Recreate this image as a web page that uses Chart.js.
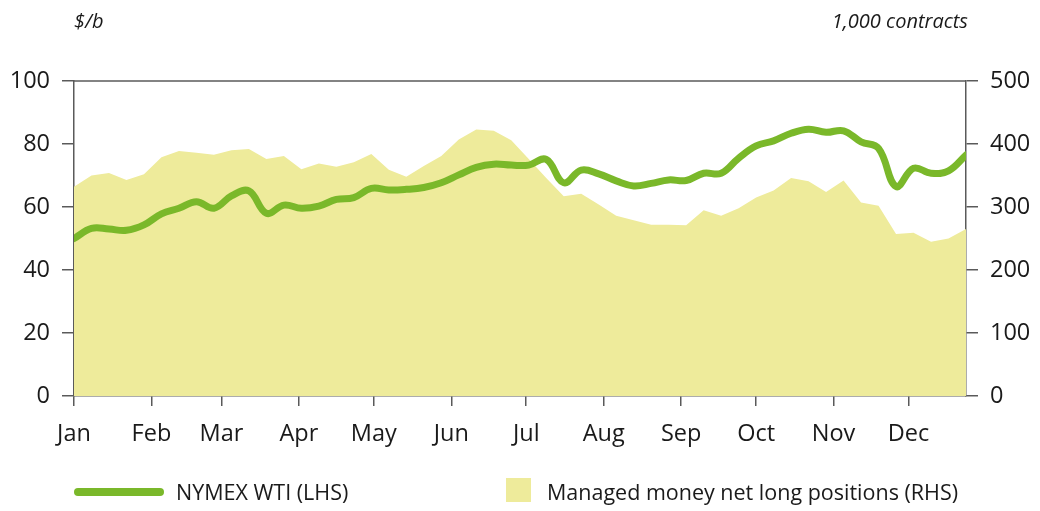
<!DOCTYPE html>
<html>
<head>
<meta charset="utf-8">
<script src="https://cdn.jsdelivr.net/npm/chart.js@4.4.1/dist/chart.umd.min.js"></script>
<style>
  html, body { margin: 0; padding: 0; background: #fff; }
  #wrap { position: relative; width: 1040px; height: 511px; font-family: "Open Sans", sans-serif; color: #1a1a1a; }
  canvas { position: absolute; left: 0; top: 0; }
  .unit { position: absolute; top: 9px; font-size: 20px; line-height: 24px; font-style: italic; }
  .leg { position: absolute; font-size: 21.5px; line-height: 26px; top: 479px; }
  .sw-line { position: absolute; left: 74px; top: 488px; width: 90px; height: 8px; border-radius: 4px; background: #7ab82a; }
  .sw-box { position: absolute; left: 506px; top: 478px; width: 25px; height: 24px; background: #eeeb9b; }
</style>
</head>
<body>
<div id="wrap">
  <canvas id="c" width="1040" height="511"></canvas>
  <div class="unit" style="left:74px;">$/b</div>
  <div class="unit" style="right:72px;">1,000 contracts</div>
  <div class="sw-line"></div>
  <div class="leg" style="left:176px;">NYMEX WTI (LHS)</div>
  <div class="sw-box"></div>
  <div class="leg" style="left:547px;">Managed money net long positions (RHS)</div>
</div>
<script>
// Weekly observation dates, as day of year offset from 1 Jan
const weekDays = [0,7,14,21,28,35,42,49,56,63,70,77,84,91,98,105,112,119,126,133,140,147,154,161,168,175,182,189,196,203,210,217,224,231,238,245,252,259,266,273,280,287,294,301,308,315,322,329,336,343,350,357];
// NYMEX WTI, $/b (left axis)
const wti = [50.0,53.2,53.0,52.6,54.3,57.8,59.6,61.7,59.6,63.5,65.1,58.0,60.6,59.6,60.3,62.4,63.0,65.9,65.4,65.6,66.2,67.7,70.2,72.6,73.6,73.3,73.3,75.1,67.7,71.7,70.5,68.3,66.7,67.5,68.6,68.4,70.7,70.7,75.5,79.4,81.0,83.4,84.7,83.7,84.2,80.7,78.6,66.5,72.3,70.7,71.5,76.5];
// Managed money net long positions, 1,000 contracts (right axis)
const netLong = [332,350,354,343,352,379,389,386,383,390,392,376,381,360,369,364,371,384,359,348,365,381,407,423,421,406,376,346,317,321,304,286,279,272,272,271,295,286,298,315,326,346,341,324,342,307,302,257,259,245,250,265];
// Month tick positions (day of year) and labels
const monthDays = [0,31,59,90,120,151,181,212,243,273,304,334];
const monthLabels = ['Jan','Feb','Mar','Apr','May','Jun','Jul','Aug','Sep','Oct','Nov','Dec'];
const leftTicks = [0,20,40,60,80,100];
const rightTicks = [0,100,200,300,400,500];

const AXIS = '#5a5a5a';
const FONT = { family: '"Open Sans", sans-serif', size: 23.5 };

const topLine = {
  id: 'topLine',
  afterDraw(chart) {
    const { ctx, chartArea } = chart;
    ctx.save();
    ctx.strokeStyle = AXIS;
    ctx.lineWidth = 1.5;
    ctx.beginPath();
    ctx.moveTo(chartArea.left, chartArea.top);
    ctx.lineTo(chartArea.right, chartArea.top);
    ctx.stroke();
    ctx.restore();
  }
};

new Chart(document.getElementById('c'), {
  type: 'line',
  data: {
    datasets: [
      {
        label: 'NYMEX WTI (LHS)',
        data: weekDays.map((d, i) => ({ x: d, y: wti[i] })),
        yAxisID: 'y',
        borderColor: '#7ab82a',
        borderWidth: 7,
        borderCapStyle: 'round',
        borderJoinStyle: 'round',
        pointRadius: 0,
        tension: 0.4,
        fill: false,
        order: 0
      },
      {
        label: 'Managed money net long positions (RHS)',
        data: weekDays.map((d, i) => ({ x: d, y: netLong[i] })),
        yAxisID: 'y1',
        borderWidth: 0,
        backgroundColor: '#eeeb9b',
        pointRadius: 0,
        tension: 0,
        fill: 'origin',
        order: 1
      }
    ]
  },
  options: {
    responsive: false,
    animation: false,
    devicePixelRatio: 1,
    layout: { padding: { top: 81, left: 0, right: 0, bottom: 0 } },
    plugins: { legend: { display: false }, tooltip: { enabled: false } },
    scales: {
      x: {
        type: 'linear',
        min: 0,
        max: 357,
        afterBuildTicks(s) { s.ticks = monthDays.map(v => ({ value: v })); },
        afterFit(s) { s.height = 115; },
        ticks: {
          autoSkip: false,
          maxRotation: 0,
          padding: 14,
          color: '#1a1a1a',
          font: FONT,
          callback(v) { const k = monthDays.indexOf(v); return k >= 0 ? monthLabels[k] : ''; }
        },
        grid: { drawOnChartArea: false, drawTicks: true, tickLength: 10, color: AXIS, lineWidth: 1.5 },
        border: { display: true, color: AXIS, width: 1.5 }
      },
      y: {
        position: 'left',
        min: 0,
        max: 100,
        afterBuildTicks(s) { s.ticks = leftTicks.map(v => ({ value: v })); },
        afterFit(s) { s.width = 74; },
        ticks: { padding: 12, color: '#1a1a1a', font: FONT },
        grid: { drawOnChartArea: false, drawTicks: true, tickLength: 12, color: AXIS, lineWidth: 1.5 },
        border: { display: true, color: AXIS, width: 1.5 }
      },
      y1: {
        position: 'right',
        min: 0,
        max: 500,
        afterBuildTicks(s) { s.ticks = rightTicks.map(v => ({ value: v })); },
        afterFit(s) { s.width = 74; },
        ticks: { padding: 12, color: '#1a1a1a', font: FONT },
        grid: { drawOnChartArea: false, drawTicks: true, tickLength: 12, color: AXIS, lineWidth: 1.5 },
        border: { display: true, color: AXIS, width: 1.5 }
      }
    }
  },
  plugins: [topLine]
});
</script>
</body>
</html>
